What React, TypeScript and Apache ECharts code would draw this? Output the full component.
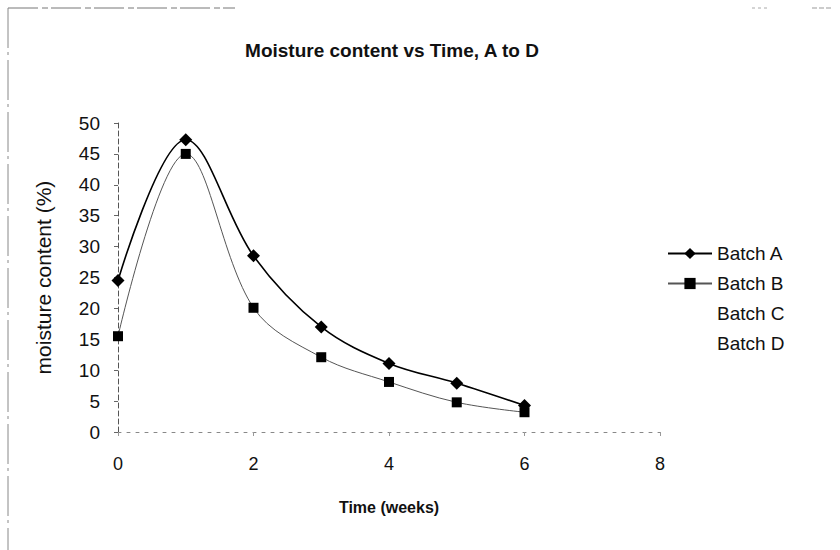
import React, { useEffect, useRef } from "react";
import * as echarts from "echarts";

const weeks = [0, 1, 2, 3, 4, 5, 6];
const batchA = [24.5, 47.3, 28.5, 17.0, 11.1, 7.9, 4.3];
const batchB = [15.5, 45.0, 20.1, 12.1, 8.1, 4.8, 3.2];
const seriesNames = ["Batch A", "Batch B", "Batch C", "Batch D"];
const xTicks = [0, 2, 4, 6, 8];
const yTicks = [0, 5, 10, 15, 20, 25, 30, 35, 40, 45, 50];

const FONT = "Liberation Sans, Arial, sans-serif";

export default function App() {
  const ref = useRef<HTMLDivElement>(null);
  useEffect(() => {
    if (!ref.current) return;
    const chart = echarts.init(ref.current, null, { renderer: "svg" });
    const pair = (ys: number[]) => weeks.map((w, i) => [w, ys[i]]);
    chart.setOption({
      animation: false,
      backgroundColor: "#ffffff",
      title: {
        text: "Moisture content vs Time, A to D",
        left: 387,
        top: 36,
        textAlign: "center",
        textStyle: { fontFamily: FONT, fontSize: 19, fontWeight: "bold", color: "#111" },
      },
      legend: {
        orient: "vertical",
        left: 662,
        top: 239,
        itemWidth: 44,
        itemHeight: 14,
        itemGap: 11,
        data: seriesNames,
        textStyle: { fontFamily: FONT, fontSize: 19, color: "#111" },
      },
      grid: { left: 118, right: 180, top: 123, bottom: 118, containLabel: false },
      xAxis: {
        type: "value",
        min: xTicks[0],
        max: xTicks[xTicks.length - 1],
        interval: 2,
        name: "Time (weeks)",
        nameLocation: "middle",
        nameGap: 67,
        nameTextStyle: { fontFamily: FONT, fontSize: 16, fontWeight: "bold", color: "#111" },
        axisLine: { show: true, lineStyle: { color: "#888", width: 1, type: [3, 6] } },
        axisTick: { show: true, length: 4, inside: false, lineStyle: { color: "#999" } },
        axisLabel: { fontFamily: FONT, fontSize: 18, color: "#111", margin: 23 },
        splitLine: { show: false },
      },
      yAxis: {
        type: "value",
        min: yTicks[0],
        max: yTicks[yTicks.length - 1],
        interval: 5,
        name: "moisture content (%)",
        nameLocation: "middle",
        nameGap: 64,
        nameRotate: 90,
        nameTextStyle: { fontFamily: FONT, fontSize: 21, color: "#111" },
        axisLine: { show: true, lineStyle: { color: "#555", width: 1, type: [5, 3] } },
        axisTick: { show: true, length: 4, lineStyle: { color: "#666" } },
        axisLabel: { fontFamily: FONT, fontSize: 19, color: "#111", margin: 18 },
        splitLine: { show: false },
      },
      graphic: [
        { type: "line", shape: { x1: 8, y1: 8, x2: 235, y2: 8 }, style: { stroke: "#777", lineWidth: 1, lineDash: [30, 4, 6, 3] } },
        { type: "line", shape: { x1: 8, y1: 8, x2: 8, y2: 550 }, style: { stroke: "#888", lineWidth: 1, lineDash: [40, 4, 3, 5] } },
        { type: "line", shape: { x1: 752, y1: 8, x2: 768, y2: 8 }, style: { stroke: "#aaa", lineWidth: 1, lineDash: [3, 3] } },
        { type: "line", shape: { x1: 812, y1: 8, x2: 832, y2: 8 }, style: { stroke: "#999", lineWidth: 1, lineDash: [5, 2] } },
      ],
      series: [
        {
          name: seriesNames[0],
          type: "line",
          data: pair(batchA),
          smooth: 0.35,
          symbol: "diamond",
          symbolSize: 13,
          lineStyle: { color: "#000", width: 1.6 },
          itemStyle: { color: "#000" },
        },
        {
          name: seriesNames[1],
          type: "line",
          data: pair(batchB),
          smooth: 0.35,
          symbol: "rect",
          symbolSize: 10,
          lineStyle: { color: "#555", width: 1 },
          itemStyle: { color: "#000" },
        },
        {
          name: seriesNames[2],
          type: "line",
          data: [],
          symbol: "none",
          lineStyle: { color: "rgba(0,0,0,0)", width: 0 },
          itemStyle: { color: "rgba(0,0,0,0)" },
        },
        {
          name: seriesNames[3],
          type: "line",
          data: [],
          symbol: "none",
          lineStyle: { color: "rgba(0,0,0,0)", width: 0 },
          itemStyle: { color: "rgba(0,0,0,0)" },
        },
      ],
    });
    return () => chart.dispose();
  }, []);
  return (
    <div
      ref={ref}
      style={{ position: "fixed", left: 0, top: 0, width: 840, height: 550, background: "#fff" }}
    />
  );
}
